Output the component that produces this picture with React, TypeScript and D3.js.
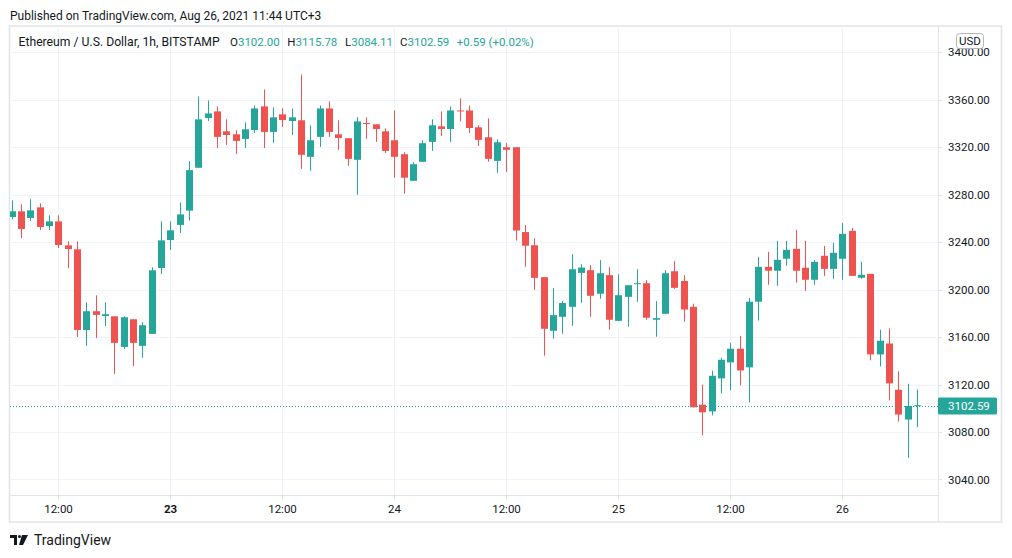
import { useRef, useEffect } from 'react';
import * as d3 from 'd3';

// hourly ETH/USD candles, first bar Aug 22 07:00
const startTime = Date.UTC(2021, 7, 22, 7);

const opens = [
  3261.2, 3266.0, 3260.4, 3269.3, 3253.6, 3257.5, 3237.3, 3234.0, 3166.0, 3181.8,
  3177.8, 3177.5, 3151.7, 3175.0, 3152.6, 3162.7, 3218.2, 3241.8, 3254.5, 3266.6,
  3302.7, 3344.6, 3350.2, 3333.4, 3330.9, 3327.0, 3334.5, 3354.4, 3332.9, 3347.7,
  3342.1, 3342.7, 3311.9, 3328.7, 3352.7, 3330.9, 3327.6, 3309.4, 3340.4, 3339.3,
  3333.4, 3325.9, 3314.1, 3291.7, 3307.7, 3324.5, 3337.6, 3335.4, 3351.0, 3351.0,
  3336.8, 3328.4, 3308.5, 3320.0, 3320.0, 3248.5, 3237.4, 3210.5, 3165.3, 3177.1,
  3185.5, 3214.1, 3216.4, 3196.5, 3212.2, 3173.7, 3193.9, 3204.6, 3205.4, 3174.6,
  3179.6, 3215.5, 3207.3, 3185.5, 3103.0, 3097.4, 3125.2, 3138.7, 3150.2, 3134.5,
  3189.8, 3219.2, 3215.9, 3226.0, 3234.4, 3218.4, 3208.3, 3228.5, 3217.5, 3226.0,
  3249.5, 3210.0, 3213.3, 3145.4, 3154.6, 3115.6, 3090.5, 3102.0,
];
const highs = [
  3275.2, 3271.9, 3276.1, 3272.7, 3262.6, 3262.6, 3240.7, 3240.7, 3189.3, 3195.2,
  3189.3, 3177.5, 3177.5, 3175.0, 3172.5, 3218.8, 3257.5, 3257.5, 3273.5, 3308.3,
  3362.8, 3359.4, 3354.4, 3343.5, 3334.3, 3341.0, 3355.2, 3368.7, 3353.6, 3352.7,
  3352.7, 3381.3, 3338.5, 3355.2, 3358.6, 3342.7, 3327.6, 3345.2, 3345.2, 3339.3,
  3335.9, 3351.0, 3315.8, 3307.4, 3325.9, 3343.5, 3350.2, 3354.4, 3361.1, 3355.2,
  3338.5, 3344.3, 3326.7, 3323.4, 3320.0, 3254.5, 3243.3, 3210.5, 3201.2, 3190.3,
  3229.8, 3221.4, 3220.6, 3224.8, 3218.9, 3213.0, 3203.7, 3217.2, 3208.0, 3190.3,
  3216.4, 3223.9, 3212.2, 3188.1, 3119.9, 3131.6, 3142.6, 3155.2, 3161.1, 3193.1,
  3227.6, 3231.9, 3241.1, 3241.1, 3250.4, 3241.1, 3225.1, 3236.9, 3239.4, 3256.3,
  3252.1, 3223.4, 3213.3, 3166.2, 3167.3, 3131.2, 3120.7, 3115.78,
];
const lows = [
  3259.2, 3243.5, 3257.8, 3250.2, 3250.2, 3235.1, 3218.2, 3160.1, 3152.6, 3159.3,
  3169.4, 3129.0, 3150.0, 3135.7, 3142.5, 3162.7, 3213.2, 3233.4, 3247.7, 3258.2,
  3302.7, 3342.1, 3319.4, 3322.0, 3314.4, 3319.4, 3332.0, 3319.4, 3323.6, 3337.1,
  3330.3, 3301.8, 3300.1, 3320.3, 3328.7, 3317.8, 3304.3, 3280.0, 3327.0, 3324.5,
  3315.2, 3294.3, 3280.8, 3291.7, 3307.7, 3316.9, 3329.5, 3324.5, 3341.8, 3332.0,
  3321.1, 3307.7, 3298.5, 3299.3, 3241.4, 3219.4, 3199.8, 3144.3, 3158.6, 3162.8,
  3169.5, 3188.9, 3177.1, 3192.3, 3166.2, 3173.7, 3168.7, 3189.7, 3174.6, 3160.3,
  3179.6, 3200.7, 3172.9, 3100.8, 3077.2, 3094.0, 3112.6, 3115.1, 3119.3, 3105.0,
  3174.0, 3204.1, 3203.2, 3220.1, 3205.8, 3199.0, 3204.1, 3211.6, 3209.1, 3208.3,
  3211.6, 3209.1, 3140.4, 3135.3, 3106.6, 3088.8, 3058.3, 3084.11,
];
const closes = [
  3266.0, 3251.1, 3266.8, 3252.8, 3257.5, 3237.6, 3234.2, 3166.0, 3181.8, 3178.7,
  3179.3, 3155.1, 3176.7, 3155.1, 3170.0, 3216.3, 3241.5, 3250.0, 3263.4, 3300.7,
  3343.5, 3348.5, 3328.7, 3330.3, 3325.3, 3335.1, 3352.7, 3332.9, 3345.2, 3342.9,
  3345.2, 3313.6, 3325.9, 3352.7, 3332.9, 3327.8, 3310.2, 3341.8, 3339.6, 3335.4,
  3316.9, 3311.9, 3294.3, 3305.7, 3323.4, 3338.5, 3335.4, 3351.0, 3350.2, 3336.2,
  3326.2, 3310.2, 3324.2, 3317.8, 3249.8, 3237.0, 3209.9, 3167.0, 3178.5, 3188.7,
  3217.2, 3218.6, 3194.8, 3213.8, 3174.6, 3195.3, 3203.7, 3205.4, 3176.3, 3176.0,
  3213.8, 3201.5, 3183.2, 3100.8, 3096.6, 3127.4, 3140.9, 3150.2, 3131.9, 3189.8,
  3219.2, 3215.9, 3225.1, 3233.5, 3215.9, 3208.3, 3223.4, 3217.5, 3231.0, 3247.0,
  3211.6, 3212.5, 3145.4, 3156.9, 3121.0, 3094.7, 3102.0, 3102.59,
];

const priceTicks = [3040, 3080, 3120, 3160, 3200, 3240, 3280, 3320, 3360, 3400];
const lastPrice = 3102.59;

const headerTitle = 'Ethereum / U.S. Dollar, 1h, BITSTAMP';
const headerFields = [
  { key: 'O', value: '3102.00' },
  { key: 'H', value: '3115.78' },
  { key: 'L', value: '3084.11' },
  { key: 'C', value: '3102.59' },
];
const headerChange = '+0.59 (+0.02%)';
const published = 'Published on TradingView.com, Aug 26, 2021 11:44 UTC+3';

const UP = '#26a69a';
const DOWN = '#ef5350';
const TEXT = '#131722';
const GRID = '#f0f3fa';
const BORDER = '#e0e3eb';
const FONT = "'Trebuchet MS', Roboto, sans-serif";

const HOUR = 3600 * 1000;

export default function App() {
  const svgRef = useRef<SVGSVGElement>(null);

  useEffect(() => {
    const svg = d3.select(svgRef.current);
    if (!svg.node()) return;
    svg.selectAll('*').remove();

    const W = 1012, H = 558;
    const left = 10, right = 938, top = 26, bottom = 495;
    const noon22 = Date.UTC(2021, 7, 22, 12);
    const pxPerHour = 9.333;

    const x = d3.scaleUtc()
      .domain([
        new Date(noon22 - ((58.3 - left) / pxPerHour) * HOUR),
        new Date(noon22 + ((right - 58.3) / pxPerHour) * HOUR),
      ])
      .range([left, right]);

    const y = d3.scaleLinear()
      .domain([3400 - (bottom - 52.3) / 1.1866, 3400 + (52.3 - top) / 1.1866])
      .range([bottom, top]);

    svg.append('rect').attr('width', W).attr('height', H).attr('fill', '#fff');

    svg.append('text')
      .attr('x', 10).attr('y', 20)
      .style('font-family', FONT).style('font-size', '12px')
      .style('fill', TEXT)
      .text(published);

    // frame
    svg.append('rect')
      .attr('x', 9.5).attr('y', 26).attr('width', 992).attr('height', 496)
      .attr('fill', 'none').attr('stroke', BORDER).attr('stroke-width', 1.5);

    const clip = svg.append('defs').append('clipPath').attr('id', 'plot-clip');
    clip.append('rect').attr('x', left).attr('y', top)
      .attr('width', right - left).attr('height', bottom - top);

    const grid = svg.append('g').attr('class', 'grid');
    const timeTicks = x.ticks(d3.utcHour.every(12)!);

    timeTicks.forEach(t => {
      const tx = Math.round(x(t)) + 0.5;
      grid.append('line')
        .attr('x1', tx).attr('x2', tx)
        .attr('y1', top).attr('y2', bottom)
        .attr('stroke', GRID).attr('stroke-width', 1);
    });
    priceTicks.forEach(p => {
      const ty = Math.round(y(p)) + 0.5;
      grid.append('line')
        .attr('x1', left).attr('x2', right)
        .attr('y1', ty).attr('y2', ty)
        .attr('stroke', GRID).attr('stroke-width', 1);
    });

    // header row
    const header = svg.append('g')
      .style('font-family', FONT).style('font-size', '11.5px');
    header.append('text').attr('x', 18.5).attr('y', 46)
      .style('font-size', '12.2px')
      .style('fill', TEXT).text(headerTitle);
    const fieldX = [230, 287.3, 345, 400];
    headerFields.forEach((f, i) => {
      const t = header.append('text').attr('x', fieldX[i]).attr('y', 46);
      t.append('tspan').style('fill', TEXT).text(f.key);
      t.append('tspan').style('fill', UP).text(f.value);
    });
    header.append('text').attr('x', 456.7).attr('y', 46)
      .style('fill', UP).text(headerChange);

    // candles
    const candles = svg.append('g').attr('clip-path', 'url(#plot-clip)');
    const bodyW = 7;
    opens.forEach((o, i) => {
      const c = closes[i];
      const cx = x(new Date(startTime + i * HOUR));
      const color = c >= o ? UP : DOWN;
      const wx = Math.round(cx) + 0.5;
      candles.append('line')
        .attr('x1', wx).attr('x2', wx)
        .attr('y1', y(highs[i])).attr('y2', y(lows[i]))
        .attr('stroke', color).attr('stroke-width', 1);
      const y0 = y(Math.max(o, c));
      const y1 = y(Math.min(o, c));
      candles.append('rect')
        .attr('x', Math.round(cx) - 3)
        .attr('y', y0)
        .attr('width', bodyW)
        .attr('height', Math.max(1, y1 - y0))
        .attr('fill', color);
    });

    // last price line
    const ly = Math.round(y(lastPrice)) + 1.5;
    svg.append('line')
      .attr('x1', left).attr('x2', right)
      .attr('y1', ly).attr('y2', ly)
      .attr('stroke', UP).attr('stroke-width', 1)
      .attr('stroke-dasharray', '1,2')
      .attr('shape-rendering', 'crispEdges');

    // axes lines
    svg.append('line')
      .attr('x1', right + 0.5).attr('x2', right + 0.5)
      .attr('y1', top).attr('y2', 522)
      .attr('stroke', BORDER);
    svg.append('line')
      .attr('x1', left).attr('x2', right)
      .attr('y1', bottom + 0.5).attr('y2', bottom + 0.5)
      .attr('stroke', BORDER);

    // price axis labels
    const pAxis = svg.append('g')
      .style('font-family', FONT).style('font-size', '11.5px');
    priceTicks.forEach(p => {
      pAxis.append('line')
        .attr('x1', right).attr('x2', right + 4)
        .attr('y1', Math.round(y(p)) + 0.5).attr('y2', Math.round(y(p)) + 0.5)
        .attr('stroke', BORDER);
      pAxis.append('text')
        .attr('x', 948).attr('y', y(p))
        .attr('dy', '0.35em')
        .style('fill', TEXT)
        .text(d3.format('.2f')(p));
    });

    // currency badge (sits over the top price label, as in the original)
    svg.append('rect')
      .attr('x', 956.5).attr('y', 33.5).attr('width', 27).attr('height', 15)
      .attr('rx', 3).attr('fill', '#fff').attr('stroke', '#b2b5be');
    svg.append('text')
      .attr('x', 970).attr('y', 41).attr('dy', '0.35em')
      .attr('text-anchor', 'middle')
      .style('font-family', FONT).style('font-size', '11.5px')
      .style('fill', TEXT).text('USD');

    // last price tag
    svg.append('rect')
      .attr('x', right).attr('y', 397.5)
      .attr('width', 59).attr('height', 17)
      .attr('rx', 1.5)
      .attr('fill', UP);
    svg.append('text')
      .attr('x', 948).attr('y', 406).attr('dy', '0.35em')
      .style('font-family', FONT).style('font-size', '11.5px')
      .style('fill', '#fff').text(lastPrice.toFixed(2));

    // time axis
    const tAxis = svg.append('g')
      .style('font-family', FONT).style('font-size', '11.5px');
    timeTicks.forEach(t => {
      const tx = Math.round(x(t)) + 0.5;
      tAxis.append('line')
        .attr('x1', tx).attr('x2', tx)
        .attr('y1', bottom).attr('y2', bottom + 4)
        .attr('stroke', BORDER);
      const isDay = t.getUTCHours() === 0;
      tAxis.append('text')
        .attr('x', tx).attr('y', 509).attr('dy', '0.35em')
        .attr('text-anchor', 'middle')
        .style('fill', TEXT)
        .style('font-weight', isDay && t.getUTCDate() === 23 ? 'bold' : 'normal')
        .text(isDay ? d3.utcFormat('%-d')(t) : d3.utcFormat('%H:%M')(t));
    });

    // footer logo
    const logo = svg.append('g').attr('transform', 'translate(10,535)').attr('fill', TEXT);
    logo.append('path').attr('d', 'M0 0 H7 V10 H4 V3 H0 Z');
    logo.append('circle').attr('cx', 9.5).attr('cy', 1.5).attr('r', 1.5);
    logo.append('path').attr('d', 'M12 0 H18 L13 10 H9 Z');
    svg.append('text')
      .attr('x', 34).attr('y', 545)
      .style('font-family', FONT).style('font-size', '14px')
      .style('fill', TEXT).text('TradingView');
  }, []);

  return (
    <svg
      ref={svgRef}
      width={1012}
      height={558}
      style={{ position: 'absolute', left: 0, top: 0, display: 'block' }}
    />
  );
}
